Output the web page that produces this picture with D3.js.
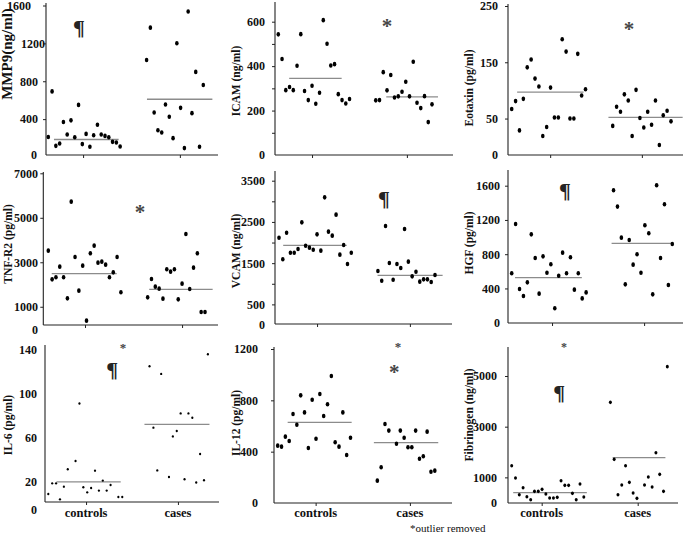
<!DOCTYPE html>
<html><head><meta charset="utf-8">
<script src="https://cdn.jsdelivr.net/npm/d3@7"></script>
<style>
body{margin:0;background:#fff}
svg{display:block}
text{font-family:"Liberation Serif","Times New Roman",serif}
</style>
</head><body>
<svg id="c" width="685" height="533"></svg>
<script>
// ---------- DATA ----------
const categories = ["controls", "cases"];

const MMP9_controls = [212,693,118,143,369,237,387,209,550,136,244,108,230,341,237,223,209,160,153,111];
const MMP9_cases    = [1024,1366,470,282,258,554,425,199,1202,519,94,1537,463,899,108,760];
const MMP9_means    = [185,610];

const ICAM_controls = [543,432,292,306,292,402,544,288,247,312,231,280,607,501,403,409,274,247,232,252];
const ICAM_cases    = [246,247,373,291,360,259,264,285,330,264,420,235,211,265,148,228];
const ICAM_means    = [345,262];

const Eotaxin_controls = [67,81,29,85,141,155,121,107,19,35,105,52,52,191,169,50,50,165,91,102];
const Eotaxin_cases    = [37,71,62,93,82,19,101,51,34,62,39,82,3,56,64,45];
const Eotaxin_means    = [97,52];

const TNFR2_controls = [3523,2233,2324,2803,2324,1379,5726,3238,1724,2848,375,3403,3748,2983,3028,2893,2324,2548,3238,1649];
const TNFR2_cases    = [1424,2249,1904,1814,1364,2683,2578,2683,1334,2039,4272,1799,2758,3403,765,765];
const TNFR2_means    = [2488,1784];

const VCAM_controls = [2118,1593,2239,1754,1754,1843,2490,1924,1876,1827,2199,1803,3096,2264,2167,2676,1706,1940,1479,1754];
const VCAM_cases    = [1310,1075,2401,1504,1099,1479,1382,2328,1536,1180,1293,1051,1107,1107,1043,1213];
const VCAM_means    = [1932,1205];

const HGF_controls = [577,1153,393,312,471,1032,756,339,775,584,682,168,549,818,577,764,386,577,284,354];
const HGF_cases    = [1547,1356,993,448,966,678,799,584,1138,1044,331,1605,756,1383,440,919];
const HGF_means    = [526,927];

const IL6_controls = [8.5,18.2,18.2,3.6,15.2,31,null,38.6,91,14.6,10,14,29.8,11.6,20.7,11.6,16.7,null,5.8,5.8];
const IL6_cases    = [125,69,30,118,null,24,61,66,82,22,82,78,19,45,21,136];
const IL6_means    = [19.5,72];

const IL12_controls = [447,439,517,483,694,610,839,706,429,805,501,849,678,769,990,473,439,706,374,509];
const IL12_cases    = [174,278,616,564,null,462,564,509,434,434,564,345,364,556,244,252];
const IL12_means    = [629,470];

const Fib_controls = [1461,974,316,592,237,118,447,447,526,342,184,184,211,868,684,684,368,118,737,224];
const Fib_cases    = [3961,1711,316,697,1461,803,382,171,null,697,1013,618,1974,1118,447,5368];
const Fib_means    = [395,1776];

// tick labels
const MMP9_ticks = [400,800,1200,1600];
const ICAM_ticks = [200,400,600];
const Eotaxin_ticks = [50,150,250];
const TNFR2_ticks = [1000,3000,5000,7000];
const VCAM_ticks = [500,1500,2500,3500];
const HGF_ticks = [400,800,1200,1600];
const IL6_ticks = [20,60,100,140];
const IL12_ticks = [400,800,1200];
const Fib_ticks = [1000,3000,5000];

// ---------- PANELS (data + layout) ----------
const panels = [
 {title:"MMP9(ng/ml)", titleSize:15, tx:7, ty:54, ctrl:MMP9_controls, cases:MMP9_cases, means:MMP9_means,
  ticks:MMP9_ticks, minor:[], yMax:1600, y0:157, yTop:5.5, ax:46, top:3, bottom:155, xEnd:218, x0:48.3, x41:203.3,
  cat:[9.2,34.8], meanIdx:[[1.5,18.6],[26.1,43.4]], lblRight:37, lblRightPer:{1600:31,1200:45,800:38,400:38}, zeroY:155, tickLen:3,
  marks:[{s:"¶", i:8.1, v:1360, size:22}]},
 {title:"ICAM (ng/ml)", titleSize:11.5, tx:236, ty:81, ctrl:ICAM_controls, cases:ICAM_cases, means:ICAM_means,
  ticks:ICAM_ticks, minor:[100,300,500], yMax:600, y0:155, yTop:21.7, ax:275, top:2, bottom:155, xEnd:453, x0:278.3, x41:432,
  cat:[9.0,34.3], meanIdx:[[2.9,16.9],[28.8,42.6]], lblRight:265, zeroY:155, tickLen:3,
  marks:[{s:"*", i:29, v:603, size:21}]},
 {title:"Eotaxin (pg/ml)", titleSize:11.5, tx:469, ty:88, ctrl:Eotaxin_controls, cases:Eotaxin_cases, means:Eotaxin_means,
  ticks:Eotaxin_ticks, minor:[], yMax:250, y0:146.7, yTop:6, ax:508, top:4, bottom:155, xEnd:683, x0:511.7, x41:671,
  cat:[9.9,33.5], meanIdx:[[1.4,18.5],[24.9,44.0]], lblRight:498, zeroY:155, tickLen:3,
  marks:[{s:"*", i:30.2, v:218, size:21}]},
 {title:"TNF-R2 (pg/ml)", titleSize:11.5, tx:8, ty:244, ctrl:TNFR2_controls, cases:TNFR2_cases, means:TNFR2_means,
  ticks:TNFR2_ticks, minor:[], yMax:7000, y0:329, yTop:173.3, ax:43.3, top:172, bottom:325, xEnd:218, x0:48.3, x41:205,
  cat:[9.6,35.0], meanIdx:[[0.9,17.9],[26.4,43.0]], lblRight:38, zeroY:330, tickLen:3,
  marks:[{s:"*", i:24, v:5486, size:21}]},
 {title:"VCAM (ng/ml)", titleSize:11.5, tx:236, ty:251, ctrl:VCAM_controls, cases:VCAM_cases, means:VCAM_means,
  ticks:VCAM_ticks, minor:[1000,2000,3000], yMax:3500, y0:325, yTop:180.7, ax:275, top:171, bottom:324, xEnd:452, x0:279, x41:435,
  cat:[10.0,34.4], meanIdx:[[1.1,17.8],[25.9,43.0]], lblRight:265, zeroY:325, tickLen:3,
  marks:[{s:"¶", i:27.6, v:3031, size:22}]},
 {title:"HGF (pg/ml)", titleSize:11.5, tx:469, ty:243, ctrl:HGF_controls, cases:HGF_cases, means:HGF_means,
  ticks:HGF_ticks, minor:[], yMax:1600, y0:322.7, yTop:185.7, ax:508, top:170, bottom:323, xEnd:683, x0:511.7, x41:672.3,
  cat:[10.3,33.8], meanIdx:[[0.85,17.9],[25.5,40.8]], lblRight:500, zeroY:323, tickLen:3,
  marks:[{s:"¶", i:13.6, v:1527, size:22}]},
 {title:"IL-6 (pg/ml)", titleSize:11.5, tx:8, ty:425, ctrl:IL6_controls, cases:IL6_cases, means:IL6_means,
  ticks:IL6_ticks, minor:[], yMax:140, y0:503.3, yTop:349.8, ax:45, top:345, bottom:502, xEnd:219, x0:48.3, x41:207.9,
  cat:[9.7,33.3], meanIdx:[[2.1,18.6],[24.7,41.4]], lblRight:37, zeroY:510, tickLen:0, small:true,
  marks:[{s:"*", i:19.2, v:145, size:13},{s:"¶", i:16.4, v:121, size:22}]},
 {title:"IL-12 (pg/ml)", titleSize:11.5, tx:236, ty:423, ctrl:IL12_controls, cases:IL12_cases, means:IL12_means,
  ticks:IL12_ticks, minor:[], yMax:1200, y0:503, yTop:349, ax:274, top:347, bottom:503, xEnd:452, x0:277.7, x41:434.8,
  cat:[9.9,34.5], meanIdx:[[2.6,19.3],[25.1,41.9]], lblRight:258, zeroY:503, tickLen:3,
  marks:[{s:"*", i:31.4, v:1239, size:13},{s:"*", i:30.4, v:1060, size:21}]},
 {title:"Fibrinogen (ng/ml)", titleSize:11.5, tx:469, ty:415, ctrl:Fib_controls, cases:Fib_cases, means:Fib_means,
  ticks:Fib_ticks, minor:[], yMax:5000, y0:502.7, yTop:376, ax:508, top:347, bottom:503, xEnd:678, x0:511.7, x41:667.3,
  cat:[7.9,33.2], meanIdx:[[0.4,19.8],[26.6,40.5]], lblRight:497, zeroY:503, tickLen:3, mid:true,
  marks:[{s:"*", i:13.8, v:6263, size:12},{s:"¶", i:12.5, v:4290, size:22}]}
];
const caseOffset = 26;
const bottomRow = new Set([6,7,8]);

const svg = d3.select("#c");

panels.forEach((p, k) => {
  const y = d3.scaleLinear().domain([0, p.yMax]).range([p.y0, p.yTop]);
  const x = d3.scaleLinear().domain([0, 41]).range([p.x0, p.x41]);
  const g = svg.append("g");

  // y-axis ticks & labels
  const yAx = d3.axisLeft(y).tickValues(p.ticks).tickSize(p.tickLen)
      .tickPadding(p.ax - p.lblRight - p.tickLen).tickFormat(d3.format("d"));
  const ya = g.append("g").attr("transform", `translate(${p.ax},0)`).call(yAx);
  ya.select(".domain").remove();
  ya.selectAll("line").attr("stroke","#222");
  ya.selectAll("text").attr("font-size",12).attr("font-weight","bold").attr("fill","#111")
     .attr("font-family","'Liberation Serif',serif");
  if (p.lblRightPer) {
    ya.selectAll(".tick text").attr("x", d => (p.lblRightPer[d] ?? p.lblRight) - p.ax);
  }
  if (p.minor.length) {
    const mAx = d3.axisLeft(y).tickValues(p.minor).tickSize(3).tickFormat("");
    const ma = g.append("g").attr("transform", `translate(${p.ax},0)`).call(mAx);
    ma.select(".domain").remove();
    ma.selectAll("line").attr("stroke","#222");
  }
  // zero label
  g.append("text").attr("x", p.lblRight).attr("y", p.zeroY).attr("dy","0.32em")
    .attr("text-anchor","end").attr("font-size",12).attr("font-weight","bold").attr("fill","#111").text("0");

  // axis lines
  g.append("line").attr("x1",p.ax).attr("x2",p.ax).attr("y1",p.top).attr("y2",p.bottom)
    .attr("stroke","#222").attr("stroke-width",1.1);
  g.append("line").attr("x1",p.ax).attr("x2",p.xEnd).attr("y1",p.bottom).attr("y2",p.bottom)
    .attr("stroke","#222").attr("stroke-width",1.1);

  // category ticks
  const xAx = d3.axisBottom(x).tickValues(p.cat).tickSize(3).tickFormat("");
  const xa = g.append("g").attr("transform", `translate(0,${p.bottom})`).call(xAx);
  xa.select(".domain").remove();
  xa.selectAll("line").attr("stroke","#222");

  if (bottomRow.has(k)) {
    g.selectAll("text.cat").data(categories).join("text").attr("class","cat")
      .attr("x",(d,i)=>x(p.cat[i])).attr("y",517)
      .attr("text-anchor","middle").attr("font-size",12.5).attr("font-weight","bold").attr("fill","#111")
      .text(d=>d);
  }

  // title
  g.append("text").attr("transform",`translate(${p.tx},${p.ty}) rotate(-90)`)
    .attr("text-anchor","middle").attr("dy","0.35em").attr("font-size",p.titleSize)
    .attr("font-weight","bold").attr("fill","#111").text(p.title);

  // mean lines
  g.selectAll("line.mean").data(p.means).join("line").attr("class","mean")
    .attr("x1",(d,i)=>x(p.meanIdx[i][0])).attr("x2",(d,i)=>x(p.meanIdx[i][1]))
    .attr("y1",d=>y(d)).attr("y2",d=>y(d))
    .attr("stroke","#8c8c8c").attr("stroke-width",1.3);

  // points
  const pts = [];
  p.ctrl.forEach((v,i)=>{ if (v!=null) pts.push({i, v}); });
  p.cases.forEach((v,i)=>{ if (v!=null) pts.push({i:i+caseOffset, v}); });
  const rx = p.small ? 1.1 : (p.mid ? 1.5 : 1.8);
  const ry = p.small ? 1.2 : (p.mid ? 1.8 : 2.3);
  g.selectAll("ellipse").data(pts).join("ellipse")
    .attr("cx",d=>x(d.i)).attr("cy",d=>y(d.v)).attr("rx",rx).attr("ry",ry).attr("fill","#000");

  // annotation marks
  p.marks.forEach(m=>{
    g.append("text").attr("x",x(m.i)).attr("y",y(m.v))
      .attr("dominant-baseline","central")
      .attr("dy", m.s==="*" ? "0.22em" : "-0.05em")
      .attr("text-anchor","middle").attr("font-size",m.size).attr("font-weight","bold")
      .attr("opacity",0.99)
      .attr("fill", m.s==="*" ? "#444" : "#222").text(m.s);
  });
});

svg.append("text").attr("x",410).attr("y",532).attr("font-size",11).attr("fill","#111")
  .text("*outlier removed");
</script>
</body></html>
